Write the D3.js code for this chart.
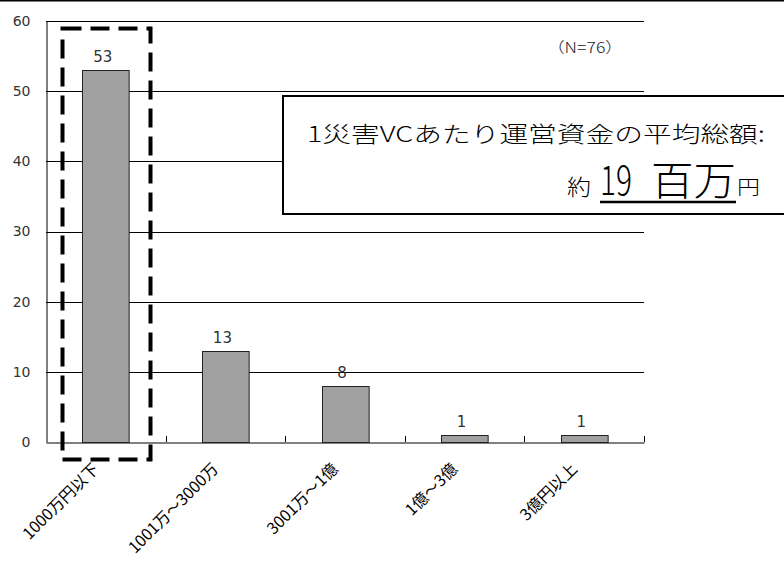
<!DOCTYPE html>
<html><head><meta charset="utf-8">
<script src="https://cdn.jsdelivr.net/npm/d3@7"></script>
<style>body{margin:0;background:#fff}svg{display:block}</style>
</head><body>
<script>
const categories = ["1000万円以下", "1001万～3000万", "3001万～1億", "1億～3億", "3億円以上"];
const values = [53, 13, 8, 1, 1];
const yTicks = [0, 10, 20, 30, 40, 50, 60];
const noteText = "（N=76）";
const boxLine1 = "1災害VCあたり運営資金の平均総額:";

const W = 784, H = 561;
const svg = d3.select("body").append("svg").attr("width", W).attr("height", H);
const font = "'Noto Sans CJK JP', 'Liberation Sans', sans-serif";
const numFont = "'DejaVu Sans', sans-serif";

const x0 = 46, x1 = 644, yTop = 21, yBot = 442;
const x = d3.scaleBand().domain(categories).range([x0, x1]).padding(0);
const y = d3.scaleLinear().domain([0, 60]).range([yBot, yTop]);

// top border line
svg.append("line").attr("x1", 0).attr("x2", W).attr("y1", 0.5).attr("y2", 0.5)
  .attr("stroke", "#000").attr("stroke-width", 2);

// gridlines
svg.append("g").selectAll("line").data(yTicks.filter(d => d > 0)).join("line")
  .attr("x1", x0).attr("x2", x1)
  .attr("y1", d => Math.round(y(d)) + 0.5).attr("y2", d => Math.round(y(d)) + 0.5)
  .attr("stroke", "#000").attr("stroke-width", 1);

// y axis
const yAxis = d3.axisLeft(y).tickValues(yTicks).tickSize(0).tickPadding(16);
const gy = svg.append("g").attr("transform", `translate(${x0 + 0.5},0)`).call(yAxis);
gy.select(".domain").attr("stroke", "#000");
gy.selectAll("text").attr("font-family", numFont).attr("font-size", 14).attr("fill", "#333");

// x axis
const bw = x.bandwidth();
const xAxis = d3.axisBottom(x).tickSize(0).tickFormat("");
const gx = svg.append("g").attr("transform", `translate(0,${yBot + 0.5})`).call(xAxis);
gx.select(".domain").attr("stroke", "#000");
// band boundary ticks (upward)
svg.append("g").selectAll("line").data(categories).join("line")
  .attr("x1", d => Math.round(x(d) + bw) + 0.5).attr("x2", d => Math.round(x(d) + bw) + 0.5)
  .attr("y1", yBot - 6).attr("y2", yBot)
  .attr("stroke", "#000");

// bars
const barW = bw * 0.39;
svg.append("g").selectAll("rect").data(values).join("rect")
  .attr("x", (d, i) => Math.round(x(categories[i]) + bw / 2 - barW / 2) + 0.5)
  .attr("y", d => Math.round(y(d)) + 0.5)
  .attr("width", barW)
  .attr("height", d => yBot - Math.round(y(d)))
  .attr("fill", "#a0a0a0").attr("stroke", "#222").attr("stroke-width", 1);

// value labels
svg.append("g").selectAll("text").data(values).join("text")
  .attr("x", (d, i) => x(categories[i]) + bw / 2 - 3)
  .attr("y", d => y(d) - 8)
  .attr("text-anchor", "middle")
  .attr("font-family", numFont).attr("font-size", 15).attr("fill", "#333")
  .text(d => d);

// category labels
svg.append("g").selectAll("text").data(categories).join("text")
  .attr("transform", d => `translate(${x(d) + bw / 2 - 6},${yBot + 28}) rotate(-45)`)
  .attr("text-anchor", "end")
  .attr("font-family", font).attr("font-size", 16).attr("fill", "#000")
  .text(d => d);

// dashed highlight rectangle
svg.append("rect").attr("x", 62.5).attr("y", 28.5).attr("width", 88).attr("height", 431)
  .attr("fill", "none").attr("stroke", "#000").attr("stroke-width", 4)
  .attr("stroke-dasharray", "19,9");

// note
svg.append("text").attr("x", 547).attr("y", 53)
  .attr("font-family", font).attr("font-weight", 300).attr("font-size", 15).attr("fill", "#222")
  .attr("textLength", 76).attr("lengthAdjust", "spacingAndGlyphs").text(noteText);

// text box
svg.append("rect").attr("x", 283).attr("y", 96).attr("width", 520).attr("height", 118)
  .attr("fill", "#fff").attr("stroke", "#000").attr("stroke-width", 2);
svg.append("text").attr("x", 307).attr("y", 142)
  .attr("font-family", font).attr("font-weight", 300).attr("font-size", 22).attr("fill", "#000")
  .attr("textLength", 458).attr("lengthAdjust", "spacingAndGlyphs")
  .text(boxLine1);
const t2 = svg.append("text").attr("y", 195).attr("font-family", font).attr("font-weight", 300).attr("fill", "#000");
t2.append("tspan").attr("x", 567).attr("font-size", 22).attr("textLength", 24).attr("lengthAdjust", "spacingAndGlyphs").text("約");
t2.append("tspan").attr("x", 600).attr("font-size", 40).attr("textLength", 32).attr("lengthAdjust", "spacingAndGlyphs").text("19");
t2.append("tspan").attr("x", 651).attr("font-size", 40).attr("textLength", 85).attr("lengthAdjust", "spacingAndGlyphs").text("百万");
t2.append("tspan").attr("x", 737).attr("font-size", 20).attr("textLength", 23).attr("lengthAdjust", "spacingAndGlyphs").text("円");
svg.append("line").attr("x1", 600).attr("x2", 736).attr("y1", 202).attr("y2", 202)
  .attr("stroke", "#000").attr("stroke-width", 2.5);
</script>
</body></html>
